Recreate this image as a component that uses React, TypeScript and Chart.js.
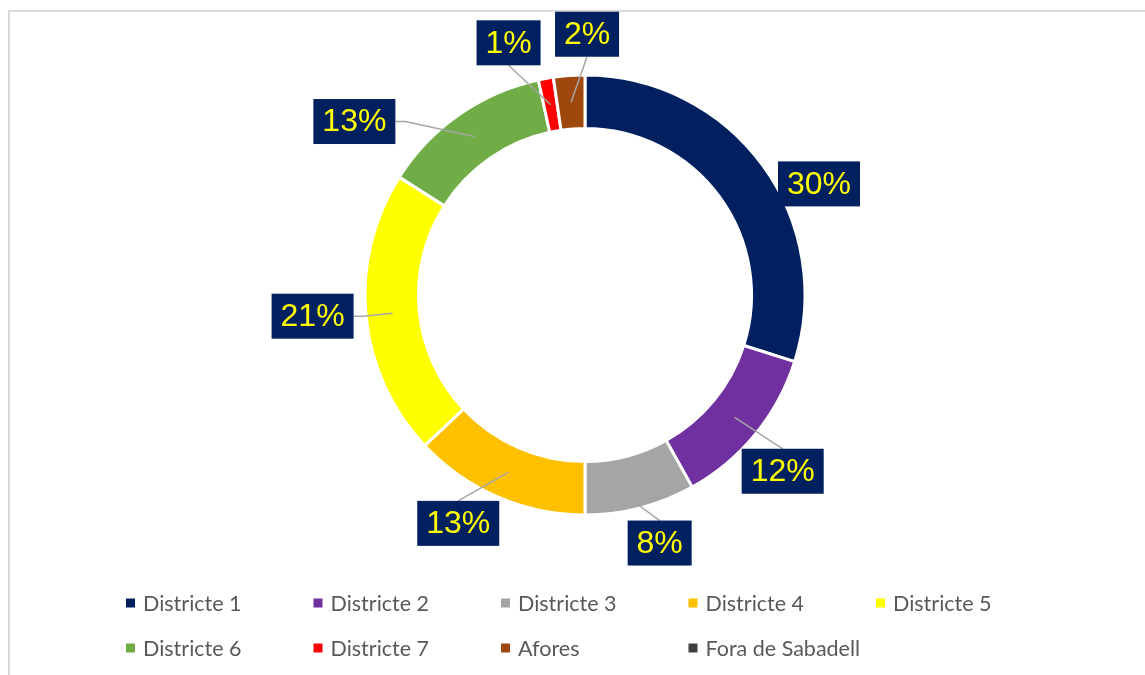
import React, { useEffect, useRef } from "react";
import { Chart, registerables } from "chart.js";

Chart.register(...registerables);

const categories = [
  "Districte 1",
  "Districte 2",
  "Districte 3",
  "Districte 4",
  "Districte 5",
  "Districte 6",
  "Districte 7",
  "Afores",
  "Fora de Sabadell",
];
const shares = [29.9, 12.0, 8.1, 13.0, 21.0, 12.6, 1.1, 2.3, 0];
const sliceColors = [
  "#002060",
  "#7030A0",
  "#A5A5A5",
  "#FFC000",
  "#FFFF00",
  "#70AD47",
  "#FF0000",
  "#9E480E",
  "#404040",
];

// label box offset from the slice's mid-band point, and where the leader line attaches
const labelDx = [78, 48, 26, -50, -80, -120, -42, 16, 0];
const labelDy = [3, 54, 61, 51, 3, -15, -62, -68, 0];
const leaderSide = ["none", "top", "top", "top", "right", "right", "bottom", "bottom", "none"];
const leaderFromOuter = [false, false, true, false, false, false, false, false, false];

const labelPlugin = {
  id: "boxLabels",
  afterDatasetsDraw(chart: any) {
    const ctx = chart.ctx;
    const meta = chart.getDatasetMeta(0);
    const data = chart.data.datasets[0].data as number[];
    const total = data.reduce((a, b) => a + b, 0);
    ctx.save();
    ctx.font = "32px 'Liberation Sans', Arial, sans-serif";
    ctx.textAlign = "center";
    ctx.textBaseline = "middle";
    meta.data.forEach((arc: any, i: number) => {
      const v = data[i];
      if (!v) return;
      const p = arc.getProps(["x", "y", "startAngle", "endAngle", "innerRadius", "outerRadius"], true);
      const mid = (p.startAngle + p.endAngle) / 2;
      const rm = (p.innerRadius + p.outerRadius) / 2;
      const ax = p.x + Math.cos(mid) * rm;
      const ay = p.y + Math.sin(mid) * rm;
      const cx = ax + labelDx[i];
      const cy = ay + labelDy[i];
      const text = Math.round((v / total) * 100) + "%";
      const tw = ctx.measureText(text).width;
      const bw = Math.round(tw + 18);
      const bh = 45;
      const bx = cx - bw / 2;
      const by = cy - bh / 2;
      const side = leaderSide[i];
      if (side !== "none") {
        const rs = leaderFromOuter[i] ? p.outerRadius - 2 : rm;
        const sx = p.x + Math.cos(mid) * rs;
        const sy = p.y + Math.sin(mid) * rs;
        ctx.strokeStyle = "#A6A6A6";
        ctx.lineWidth = 1.5;
        ctx.beginPath();
        if (side === "top") {
          ctx.moveTo(cx, by);
          ctx.lineTo(sx, sy);
        } else if (side === "bottom") {
          ctx.moveTo(cx, by + bh);
          ctx.lineTo(sx, sy);
        } else if (side === "right") {
          ctx.moveTo(bx + bw, cy);
          ctx.lineTo(bx + bw + 10, cy);
          ctx.lineTo(sx, sy);
        } else {
          ctx.moveTo(bx, cy);
          ctx.lineTo(bx - 10, cy);
          ctx.lineTo(sx, sy);
        }
        ctx.stroke();
      }
      ctx.fillStyle = "#002060";
      ctx.fillRect(bx, by, bw, bh);
      ctx.fillStyle = "#FFFF00";
      ctx.fillText(text, cx, cy + 1);
    });
    ctx.restore();
  },
};

const legendPlugin = {
  id: "gridLegend",
  afterDraw(chart: any) {
    const ctx = chart.ctx;
    const labels = chart.data.labels as string[];
    const colors = chart.data.datasets[0].backgroundColor as string[];
    ctx.save();
    ctx.font = "21.5px Lato, 'Open Sans', sans-serif";
    ctx.textBaseline = "middle";
    ctx.textAlign = "left";
    labels.forEach((lab, i) => {
      const col = i % 5;
      const row = Math.floor(i / 5);
      const x = 126 + col * 187.5;
      const y = 603 + row * 45;
      ctx.fillStyle = colors[i];
      ctx.fillRect(x, y - 4.5, 9, 9);
      ctx.fillStyle = "#595959";
      ctx.fillText(lab, x + 17, y + 1);
    });
    ctx.restore();
  },
};

export default function App() {
  const ref = useRef<HTMLCanvasElement | null>(null);
  useEffect(() => {
    if (!ref.current) return;
    const chart = new Chart(ref.current, {
      type: "doughnut",
      data: {
        labels: categories,
        datasets: [
          {
            data: shares,
            backgroundColor: sliceColors,
            borderColor: "#FFFFFF",
            borderWidth: 3,
            hoverOffset: 0,
            hoverBorderWidth: 3,
          },
        ],
      },
      options: {
        responsive: false,
        animation: false,
        cutout: "75.7%",
        layout: { padding: { left: 25, right: 0, top: 73.5, bottom: 158.5 } },
        plugins: {
          legend: { display: false },
          tooltip: { enabled: false },
        },
        events: [],
      },
      plugins: [labelPlugin, legendPlugin],
    });
    return () => chart.destroy();
  }, []);
  return (
    <>
      <div
        style={{
          position: "absolute",
          left: 8,
          top: 10,
          width: 1137,
          height: 665,
          borderLeft: "2px solid #d9d9d9",
          borderTop: "2px solid #d9d9d9",
          boxSizing: "border-box",
        }}
      />
      <canvas
        ref={ref}
        width={1145}
        height={675}
        style={{ position: "absolute", left: 0, top: 0, width: 1145, height: 675 }}
      />
    </>
  );
}
